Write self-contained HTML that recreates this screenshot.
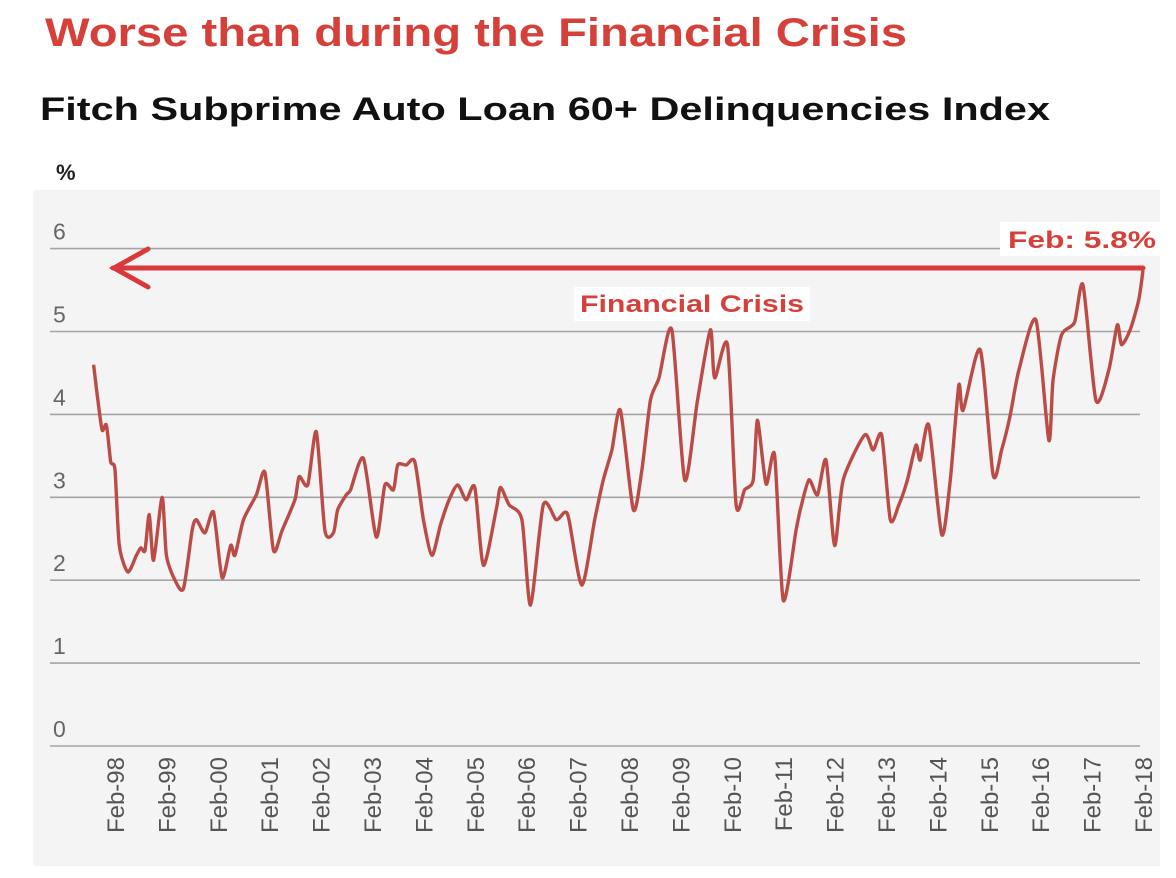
<!DOCTYPE html>
<html><head><meta charset="utf-8"><style>
html,body{margin:0;padding:0;background:#fff;}
svg{display:block;font-family:"Liberation Sans",sans-serif;}
</style></head><body>
<svg id="chart" width="1176" height="878" viewBox="0 0 1176 878" xmlns="http://www.w3.org/2000/svg">
<text x="45" y="46" font-size="40" font-weight="bold" fill="#d6403a" textLength="862" lengthAdjust="spacingAndGlyphs">Worse than during the Financial Crisis</text>
<text x="40" y="120" font-size="32" font-weight="bold" fill="#111" textLength="1010" lengthAdjust="spacingAndGlyphs">Fitch Subprime Auto Loan 60+ Delinquencies Index</text>
<text x="56" y="180" font-size="22" font-weight="bold" fill="#222">%</text>
<rect x="33" y="190" width="1127" height="676" fill="#f4f4f4"/>
<g id="grid"></g>
<g id="yticks"></g>
<g id="xticks"></g>
<path id="series" fill="none" stroke="#bb4b47" stroke-width="3.4" stroke-linejoin="round"/>
<g stroke="#d9393a" stroke-width="5" fill="none" stroke-linecap="round">
<line x1="113" y1="268" x2="1143" y2="268"/>
<polyline points="148,249 114,268 148,287"/>
</g>
<rect x="1000" y="222" width="162" height="34" fill="#fff"/>
<text x="1008" y="248" font-size="24" font-weight="bold" fill="#d6403a" textLength="148" lengthAdjust="spacingAndGlyphs">Feb: 5.8%</text>
<rect x="574" y="287" width="236" height="34" fill="#fff"/>
<text x="580" y="312" font-size="24" font-weight="bold" fill="#d6403a" textLength="224" lengthAdjust="spacingAndGlyphs">Financial Crisis</text>
</svg>
<script>
// months since Feb-98 (0) and index values (%)
const months = [-5,-4,-3,-2,-1,0,1,3,5,6,7,8,9,11,12,14,16,18,19,21,23,25,27,28,30,33,35,37,39,42,43,45,47,49,51,52,54,55,58,61,63,65,66,68,70,72,74,76,78,80,82,84,86,89,90,92,95,97,100,103,105,106,109,112,114,116,118,121,123,125,127,130,133,136,139,140,143,145,147,149,150,152,154,156,159,160,162,164,166,168,170,175,177,179,181,183,185,187,188,190,193,195,197,198,202,205,207,209,211,215,218,219,221,224,226,229,232,234,235,237,239,240];
const values = [4.6,4.17,3.81,3.87,3.43,3.33,2.42,2.1,2.3,2.39,2.36,2.79,2.24,3.0,2.3,2.0,1.9,2.6,2.73,2.57,2.82,2.03,2.42,2.3,2.73,3.03,3.3,2.36,2.6,2.97,3.25,3.15,3.79,2.6,2.57,2.85,3.03,3.09,3.47,2.52,3.15,3.09,3.39,3.39,3.43,2.73,2.3,2.67,2.97,3.15,2.97,3.12,2.18,2.85,3.12,2.91,2.73,1.7,2.91,2.73,2.82,2.73,1.94,2.73,3.21,3.57,4.05,2.85,3.33,4.17,4.44,5.02,3.21,4.17,5.02,4.44,4.84,2.91,3.09,3.21,3.93,3.16,3.51,1.76,2.6,2.85,3.21,3.03,3.45,2.42,3.21,3.75,3.57,3.75,2.73,2.91,3.21,3.63,3.45,3.87,2.55,3.21,4.35,4.05,4.78,3.27,3.57,3.99,4.53,5.14,3.69,4.41,4.96,5.11,5.56,4.17,4.53,5.08,4.84,5.02,5.38,5.74];
const yTicks = [0,1,2,3,4,5,6];
const xTickMonths = [0,12,24,36,48,60,72,84,96,108,120,132,144,156,168,180,192,204,216,228,240];
const xTickLabels = ["Feb-98","Feb-99","Feb-00","Feb-01","Feb-02","Feb-03","Feb-04","Feb-05","Feb-06","Feb-07","Feb-08","Feb-09","Feb-10","Feb-11","Feb-12","Feb-13","Feb-14","Feb-15","Feb-16","Feb-17","Feb-18"];

const NS='http://www.w3.org/2000/svg';
function xS(m){return 115 + m*(1143-115)/240;}
function yS(v){return 746 - v*82.9;}

const grid=document.getElementById('grid');
const yt=document.getElementById('yticks');
yTicks.forEach(v=>{
  const l=document.createElementNS(NS,'line');
  
  
  l.setAttribute('x1',50);l.setAttribute('x2',1140);
  l.setAttribute('y1',yS(v));l.setAttribute('y2',yS(v));
  l.setAttribute('stroke','#a4a4a4');l.setAttribute('stroke-width','1.6');
  grid.appendChild(l);
  const t=document.createElementNS(NS,'text');
  
  
  t.setAttribute('x',53);t.setAttribute('y',yS(v)-9);
  t.setAttribute('font-size','23');t.setAttribute('fill','#666');
  t.textContent=v;
  yt.appendChild(t);
});
const xt=document.getElementById('xticks');
xTickMonths.forEach((m,i)=>{
  const t=document.createElementNS(NS,'text');
  
  
  const x=xS(m)+9, y=757;
  t.setAttribute('transform','translate('+x+','+y+') rotate(-90)');
  t.setAttribute('text-anchor','end');
  t.setAttribute('font-size','24');t.setAttribute('fill','#555');
  t.textContent=xTickLabels[i];
  xt.appendChild(t);
});
// smoothed path (Catmull-Rom, low tension)
const pts=months.map((m,i)=>[xS(m),yS(values[i])]);
let d='M'+pts[0][0].toFixed(1)+','+pts[0][1].toFixed(1);
const k=0.12;
for(let i=0;i<pts.length-1;i++){
  const p0=pts[Math.max(0,i-1)],p1=pts[i],p2=pts[i+1],p3=pts[Math.min(pts.length-1,i+2)];
  const c1=[p1[0]+(p2[0]-p0[0])*k,p1[1]+(p2[1]-p0[1])*k];
  const c2=[p2[0]-(p3[0]-p1[0])*k,p2[1]-(p3[1]-p1[1])*k];
  d+='C'+c1[0].toFixed(1)+','+c1[1].toFixed(1)+' '+c2[0].toFixed(1)+','+c2[1].toFixed(1)+' '+p2[0].toFixed(1)+','+p2[1].toFixed(1);
}
document.getElementById('series').setAttribute('d',d);
</script>
</body></html>
